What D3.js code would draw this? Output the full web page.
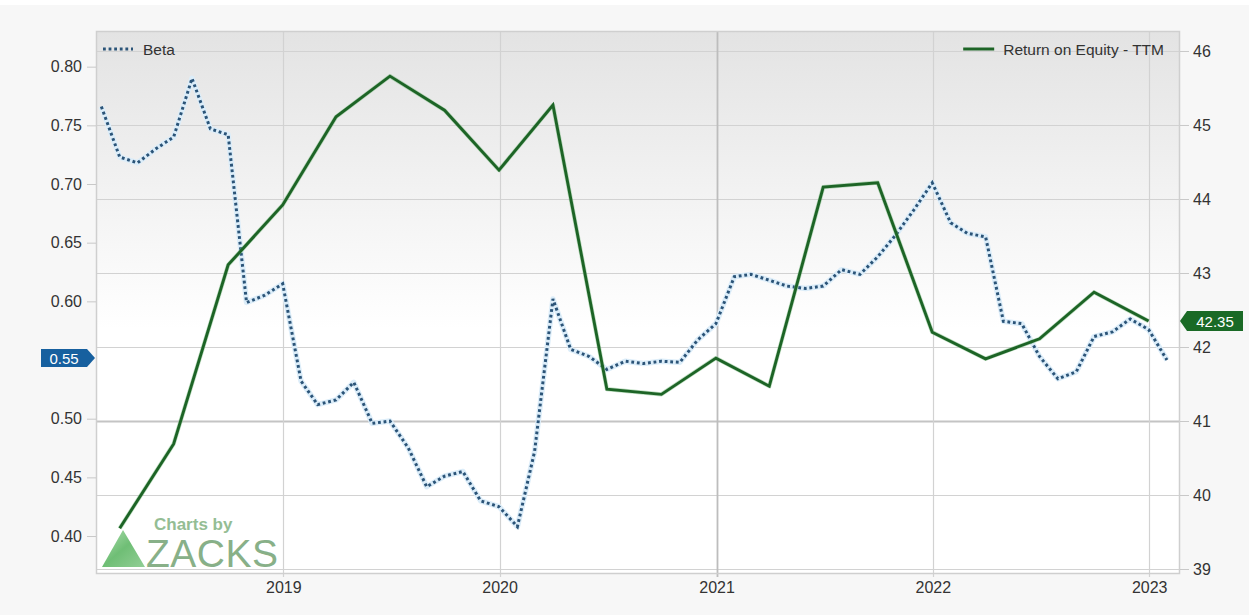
<!DOCTYPE html>
<html>
<head>
<meta charset="utf-8">
<script src="https://cdn.jsdelivr.net/npm/d3@7"></script>
<style>
  html, body { margin: 0; padding: 0; background: #f7f7f7; }
  svg { display: block; }
  text { font-family: Arial, "Liberation Sans", sans-serif; }
</style>
</head>
<body>
<svg id="chart" width="1249" height="615"></svg>
<script>
// Monthly beta, end of month, Feb 2018 .. Jan 2023
const betaStart = "2018-02";
const betaValues = [
  0.766, 0.723, 0.718, 0.730, 0.740, 0.790, 0.747, 0.742, 0.599, 0.605, 0.615,
  0.532, 0.512, 0.516, 0.531, 0.496, 0.498, 0.475, 0.442, 0.451, 0.455, 0.430, 0.425,
  0.408, 0.472, 0.602, 0.559, 0.553, 0.542, 0.549, 0.547, 0.549, 0.548, 0.567, 0.581,
  0.621, 0.623, 0.618, 0.613, 0.611, 0.613, 0.627, 0.623, 0.638, 0.657, 0.678, 0.701,
  0.667, 0.658, 0.655, 0.583, 0.581, 0.553, 0.534, 0.540, 0.570, 0.574, 0.585, 0.576,
  0.55
];

// Quarterly return on equity (TTM), quarter ends Mar 2018 .. Dec 2022
const roeStart = "2018-03";
const roeValues = [
  39.55, 40.69, 43.11, 43.92,
  45.11, 45.66, 45.20, 44.39,
  45.27, 41.43, 41.36, 41.85,
  41.47, 44.16, 44.22, 42.20,
  41.84, 42.11, 42.74, 42.35
];

// 0.55 sits under the last-value flag, so it gets no separate label
const betaTicks = [0.40, 0.45, 0.50, 0.60, 0.65, 0.70, 0.75, 0.80];
const roeTicks = [39, 40, 41, 42, 43, 44, 45, 46];
const yearTicks = [2019, 2020, 2021, 2022, 2023];

const betaLabel = "Beta";
const roeLabel = "Return on Equity - TTM";

// month-end dates
function monthEnds(start, n, step) {
  const [y, m] = start.split("-").map(Number);
  return d3.range(n).map(i => new Date(y, m - 1 + i * step + 1, 0));
}
const betaDates = monthEnds(betaStart, betaValues.length, 1);
const roeDates = monthEnds(roeStart, roeValues.length, 3);
const beta = betaDates.map((d, i) => ({ date: d, value: betaValues[i] }));
const roe = roeDates.map((d, i) => ({ date: d, value: roeValues[i] }));

const W = 1249, H = 615;
const margin = { top: 31, right: 69, bottom: 42, left: 96 };
const iw = W - margin.left - margin.right;
const ih = H - margin.top - margin.bottom;

const svg = d3.select("#chart");

// thin white strip at the very top of the canvas
svg.append("rect").attr("width", W).attr("height", 5).attr("fill", "#ffffff");

const defs = svg.append("defs");
const bg = defs.append("linearGradient").attr("id", "plotBg")
  .attr("x1", 0).attr("y1", 0).attr("x2", 0).attr("y2", 1);
bg.append("stop").attr("offset", "0%").attr("stop-color", "#e3e3e3");
bg.append("stop").attr("offset", "55%").attr("stop-color", "#ffffff");
bg.append("stop").attr("offset", "100%").attr("stop-color", "#ffffff");

const tri = defs.append("linearGradient").attr("id", "logoTri")
  .attr("x1", 0).attr("y1", 0).attr("x2", 1).attr("y2", 1);
tri.append("stop").attr("offset", "0%").attr("stop-color", "#a8dca8");
tri.append("stop").attr("offset", "50%").attr("stop-color", "#5fb766");
tri.append("stop").attr("offset", "100%").attr("stop-color", "#86c98a");

const x = d3.scaleTime()
  .domain([new Date(2018, 1, 19), new Date(2023, 1, 22)])
  .range([0, iw]);
const yL = d3.scaleLinear().domain([0.3685, 0.8304]).range([ih, 0]);
const yR = d3.scaleLinear().domain([38.946, 46.27]).range([ih, 0]);

const g = svg.append("g").attr("transform", `translate(${margin.left},${margin.top})`);

g.append("rect").attr("width", iw).attr("height", ih).attr("fill", "url(#plotBg)");

// horizontal grid from the right axis
g.append("g").selectAll("line").data(roeTicks).join("line")
  .attr("x1", 0).attr("x2", iw)
  .attr("y1", d => Math.round(yR(d)) + 0.5).attr("y2", d => Math.round(yR(d)) + 0.5)
  .attr("stroke", d => d === 41 ? "#c4c4c4" : "#d2d2d2")
  .attr("stroke-width", d => d === 41 ? 2 : 1.2);

// vertical year grid
const yearDates = yearTicks.map(y => new Date(y, 0, 1));
g.append("g").selectAll("line").data(yearDates).join("line")
  .attr("x1", d => Math.round(x(d)) + 0.5).attr("x2", d => Math.round(x(d)) + 0.5)
  .attr("y1", 0).attr("y2", ih + 4)
  .attr("stroke", d => d.getFullYear() === 2021 ? "#bdbdbd" : "#d2d2d2")
  .attr("stroke-width", d => d.getFullYear() === 2021 ? 1.8 : 1.2);

// frame
g.append("rect").attr("x", 0.5).attr("y", 0.5).attr("width", iw - 1).attr("height", ih)
  .attr("fill", "none").attr("stroke", "#cfcfcf").attr("stroke-width", 1.5);

// watermark
const wm = g.append("g");
wm.append("path")
  .attr("d", `M${123 - margin.left},${530 - margin.top} L${145 - margin.left},${567 - margin.top} L${102 - margin.left},${567 - margin.top} Z`)
  .attr("fill", "url(#logoTri)").attr("opacity", 0.9);
wm.append("text").attr("x", 154 - margin.left).attr("y", 530 - margin.top)
  .attr("font-size", 17).attr("font-weight", "bold").attr("fill", "#94bd94")
  .text("Charts by");
wm.append("text").attr("x", 146 - margin.left).attr("y", 567 - margin.top)
  .attr("font-size", 39).attr("fill", "#88b088").attr("letter-spacing", 0.5)
  .text("ZACKS");

// beta line (dotted with soft halo)
const lineB = d3.line().x(d => x(d.date)).y(d => yL(d.value));
g.append("path").datum(beta).attr("d", lineB)
  .attr("fill", "none").attr("stroke", "#dcedf9").attr("stroke-width", 5.5)
  .attr("stroke-linejoin", "round");
g.append("path").datum(beta).attr("d", lineB)
  .attr("fill", "none").attr("stroke", "#2b5478").attr("stroke-width", 3)
  .attr("stroke-dasharray", "2.8,2.8");

// ROE line
const lineR = d3.line().x(d => x(d.date)).y(d => yR(d.value));
g.append("path").datum(roe).attr("d", lineR)
  .attr("fill", "none").attr("stroke", "#7fbf85").attr("stroke-width", 4.2)
  .attr("stroke-opacity", 0.5).attr("stroke-linejoin", "round");
g.append("path").datum(roe).attr("d", lineR)
  .attr("fill", "none").attr("stroke", "#1d6426").attr("stroke-width", 2.9)
  .attr("stroke-linejoin", "miter");

// axes
const axL = g.append("g").call(
  d3.axisLeft(yL).tickValues(betaTicks).tickFormat(d3.format(".2f")).tickSize(9).tickPadding(5));
const axR = g.append("g").attr("transform", `translate(${iw},0)`).call(
  d3.axisRight(yR).tickValues(roeTicks).tickFormat(d3.format("d")).tickSize(9).tickPadding(4));
const axB = g.append("g").attr("transform", `translate(0,${ih})`).call(
  d3.axisBottom(x).tickValues(yearDates).tickFormat(d3.timeFormat("%Y")).tickSize(0).tickPadding(9));
[axL, axR, axB].forEach(a => {
  a.select(".domain").remove();
  a.selectAll(".tick line").attr("stroke", "#c8c8c8");
  a.selectAll(".tick text").attr("fill", "#333").attr("font-size", 16)
    .attr("font-family", "Arial, 'Liberation Sans', sans-serif");
});

// legend
const legB = g.append("g").attr("transform", `translate(${103 - margin.left},${49 - margin.top})`);
legB.append("line").attr("x1", 0).attr("x2", 30).attr("y1", 0).attr("y2", 0)
  .attr("stroke", "#2b5478").attr("stroke-width", 3).attr("stroke-dasharray", "2.8,2.8");
legB.append("text").attr("x", 40).attr("y", 5.5).attr("font-size", 15.5).attr("fill", "#333").text(betaLabel);

const legR = g.append("g").attr("transform", `translate(${iw - 16},${49 - margin.top})`);
legR.append("text").attr("x", 0).attr("y", 5.5).attr("text-anchor", "end")
  .attr("font-size", 15.5).attr("fill", "#333").text(roeLabel);
const rw = legR.select("text").node().getComputedTextLength();
legR.append("line").attr("x1", -rw - 40).attr("x2", -rw - 9).attr("y1", 0).attr("y2", 0)
  .attr("stroke", "#1d6426").attr("stroke-width", 3);

// last-value flags
const lastB = beta[beta.length - 1];
const yb = yL(lastB.value) - 2;
const fb = g.append("g").attr("transform", `translate(0,${yb})`);
fb.append("path").attr("d", "M-55,-9 L-9,-9 L-1,0 L-9,9 L-55,9 Z").attr("fill", "#17609f");
fb.append("text").attr("x", -32).attr("y", 5.5).attr("text-anchor", "middle")
  .attr("font-size", 15).attr("fill", "#fff").text(d3.format(".2f")(lastB.value));

const lastR = roe[roe.length - 1];
const yr = yR(lastR.value);
const fr = g.append("g").attr("transform", `translate(${iw},${yr})`);
fr.append("path").attr("d", "M0,0 L7,-10 L63,-10 L63,10 L7,10 Z").attr("fill", "#1a6a26");
fr.append("text").attr("x", 35).attr("y", 5.5).attr("text-anchor", "middle")
  .attr("font-size", 15).attr("fill", "#fff").text(d3.format(".2f")(lastR.value));
</script>
</body>
</html>
